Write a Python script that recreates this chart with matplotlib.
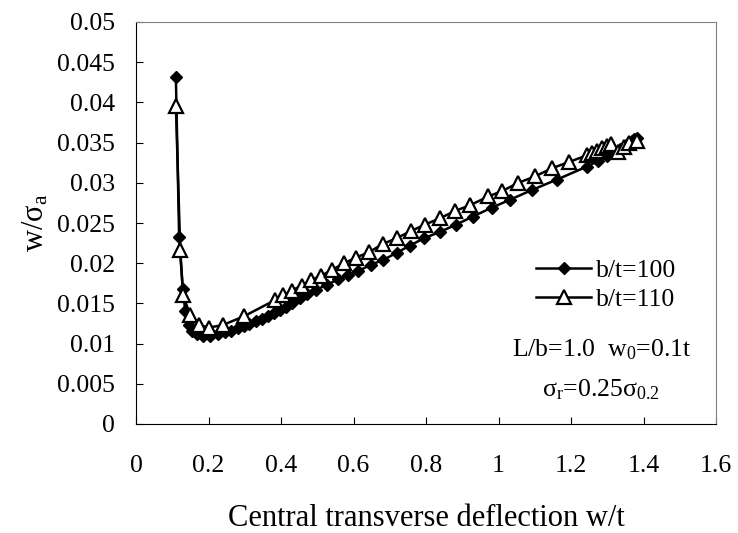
import matplotlib
matplotlib.use("Agg")
import matplotlib.pyplot as plt

plt.rcParams['font.family'] = ['Liberation Serif', 'DejaVu Serif']
plt.rcParams['mathtext.fontset'] = 'custom'
plt.rcParams['mathtext.rm'] = 'Liberation Serif'
plt.rcParams['mathtext.it'] = 'Liberation Serif:italic'

# b/t = 100 (filled diamonds)
x100 = [0.110, 0.119, 0.129, 0.136, 0.145, 0.155, 0.167, 0.185, 0.205, 0.225,
        0.245, 0.262, 0.280, 0.297, 0.313, 0.330, 0.347, 0.363, 0.380, 0.397,
        0.413, 0.430, 0.452, 0.471, 0.497, 0.526, 0.558, 0.586, 0.613, 0.647,
        0.682, 0.719, 0.756, 0.794, 0.839, 0.883, 0.929, 0.981, 1.032, 1.092,
        1.161, 1.243, 1.275, 1.300, 1.320, 1.335, 1.348, 1.358, 1.367, 1.375,
        1.382]
y100 = [0.0431, 0.0232, 0.0168, 0.0140, 0.0123, 0.0116, 0.0112, 0.0110, 0.0110, 0.0112,
        0.0114, 0.0116, 0.0119, 0.0122, 0.0125, 0.0128, 0.0131, 0.0134, 0.0138, 0.0142,
        0.0146, 0.0150, 0.0157, 0.0162, 0.0167, 0.0173, 0.0180, 0.0185, 0.0190, 0.0198,
        0.0204, 0.0213, 0.0222, 0.0231, 0.0239, 0.0248, 0.0258, 0.0269, 0.0279, 0.0291,
        0.0304, 0.0320, 0.0327, 0.0333, 0.0338, 0.0342, 0.0346, 0.0349, 0.0352, 0.0354,
        0.0356]

# b/t = 110 (open triangles)
x110 = [0.110, 0.122, 0.130, 0.149, 0.175, 0.202, 0.239, 0.298, 0.383, 0.406,
        0.429, 0.457, 0.482, 0.509, 0.542, 0.574, 0.607, 0.644, 0.681, 0.719,
        0.758, 0.797, 0.839, 0.880, 0.921, 0.972, 1.011, 1.055, 1.101, 1.147,
        1.195, 1.243, 1.257, 1.271, 1.285, 1.298, 1.311, 1.330, 1.345, 1.360,
        1.381]
y110 = [0.0396, 0.0217, 0.0160, 0.0136, 0.0123, 0.0120, 0.0123, 0.0134, 0.0154, 0.0160,
        0.0166, 0.0172, 0.0179, 0.0184, 0.0192, 0.0200, 0.0207, 0.0214, 0.0224, 0.0231,
        0.0240, 0.0248, 0.0256, 0.0265, 0.0272, 0.0283, 0.0290, 0.0300, 0.0308, 0.0318,
        0.0326, 0.0334, 0.0337, 0.0340, 0.0343, 0.0346, 0.0348, 0.0338, 0.0345, 0.0349,
        0.0352]

xticks = [0, 0.2, 0.4, 0.6, 0.8, 1, 1.2, 1.4, 1.6]
xtick_labels = ['0', '0.2', '0.4', '0.6', '0.8', '1', '1.2', '1.4', '1.6']
yticks = [0, 0.005, 0.01, 0.015, 0.02, 0.025, 0.03, 0.035, 0.04, 0.045, 0.05]
ytick_labels = ['0', '0.005', '0.01', '0.015', '0.02', '0.025', '0.03', '0.035',
                '0.04', '0.045', '0.05']

fig = plt.figure(figsize=(7.38, 5.33), dpi=100)
ax = fig.add_axes([136/738, 1 - 424/533, 580/738, 402/533])

ax.plot(x100, y100, color='black', lw=1.8, marker='D', ms=6.5,
        mfc='black', mec='black', label='b/t=100')
ax.plot(x110, y110, color='black', lw=1.8, marker='^', ms=10,
        mfc='white', mec='black', mew=1.6, label='b/t=110')

ax.set_xlim(0, 1.6)
ax.set_ylim(0, 0.05)
ax.set_xticks(xticks)
ax.set_xticklabels(xtick_labels)
ax.set_yticks(yticks)
ax.set_yticklabels(ytick_labels)
ax.tick_params(axis='x', direction='in', length=5, pad=22, labelsize=18.5)
ax.tick_params(axis='y', direction='in', length=5, pad=15, labelsize=18.5)

for s in ['top', 'right']:
    ax.spines[s].set_color('#808080')
for s in ['left', 'bottom']:
    ax.spines[s].set_color('black')

ax.set_xlabel('Central transverse deflection w/t', fontsize=22)
ax.xaxis.set_label_coords(0.5, (424 - 504) / 402)
ax.set_ylabel(r'w/σ$_{\mathrm{a}}$', fontsize=22)
ax.yaxis.set_label_coords((50 - 136) / 580, 0.5)

ax.legend(loc='upper left', bbox_to_anchor=((536 - 136) / 580, (424 - 259) / 402),
          frameon=False, fontsize=18.5, handlelength=2.15, handletextpad=0.2,
          labelspacing=0.25, borderpad=0, borderaxespad=0)

ax.text((602 - 136) / 580, (424 - 350) / 402, r'L/b=1.0  w$_{0}$=0.1t',
        transform=ax.transAxes, ha='center', va='center', fontsize=18.5)
ax.text((601 - 136) / 580, (424 - 390) / 402, r'σ$_{\mathrm{r}}$=0.25σ$_{0.2}$',
        transform=ax.transAxes, ha='center', va='center', fontsize=18.5)

fig.savefig('out.png', dpi=100)
